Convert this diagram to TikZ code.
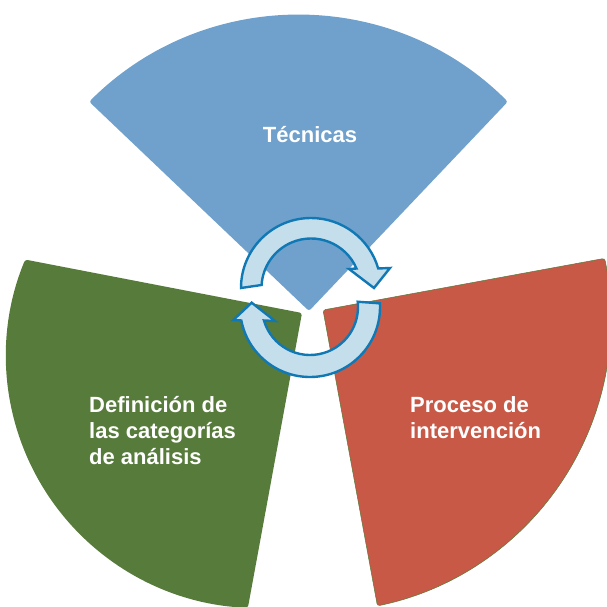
\documentclass[tikz,border=0pt]{standalone}
\usepackage{fontspec}
\setsansfont{Liberation Sans}
\usetikzlibrary{calc}
\definecolor{tecblue}{HTML}{6FA1CC}
\definecolor{defgreen}{HTML}{577B3B}
\definecolor{procred}{HTML}{C85946}
\definecolor{cycfill}{HTML}{C5DEEB}
\definecolor{cycline}{HTML}{1079B5}

\begin{document}
\begin{tikzpicture}[
  x=1pt, y=1pt,
  sector/.style={rounded corners=2.5pt},
  cyc/.style={fill=cycfill, draw=cycline, line width=2.4pt},
  lbl/.style={text=white, inner sep=0pt, font=\fontsize{22}{26}\selectfont\sffamily\bfseries}
]
\useasboundingbox (0,0) rectangle (607,606);
\clip (0,0) rectangle (607,606);

% tips and arc centres of the three sectors
\coordinate (btip) at (309,295);
\coordinate (bmid) at (298.5,295);
\coordinate (gtip) at (302,293);
\coordinate (gmid) at (258,250);
\coordinate (rtip) at (323,296);
\coordinate (rmid) at (318,287);

\path[sector, fill=tecblue] (btip) -- ($(bmid)+(135:296)$) arc[start angle=135, end angle=45, radius=296] -- cycle;
\path[sector, fill=defgreen] (gtip) -- ($(gmid)+(157.5:252)$) arc[start angle=157.5, end angle=267.7, radius=252] -- cycle;
\path[sector, fill=procred, draw=defgreen, line width=0.5pt] (rtip) -- ($(rmid)+(-78.3:293)$) arc[start angle=-78.3, end angle=11.95, radius=293] -- cycle;

% the two turning arrows
\coordinate (up) at (311,318);
\coordinate (lo) at (310,299);
\draw[cyc] ($(up)+(180:70)$) arc[start angle=180, end angle=16.2, radius=70]
  -- ($(up)+(79,20)$) -- ($(up)+(63,0)$) -- ($(up)+(38,19)$)
  -- ($(up)+(23.2:49.5)$) arc[start angle=23.2, end angle=176.5, radius=49.5] -- cycle;
\draw[cyc] ($(lo)+(3:70)$) arc[start angle=3, end angle=-168.9, radius=70]
  -- ($(lo)+(-76.7,-13)$) -- ($(lo)+(-58.3,4.3)$) -- ($(lo)+(-35,-14)$)
  -- ($(lo)+(-163.7:48)$) arc[start angle=-163.7, end angle=6.3, radius=48] -- cycle;

\node[lbl, anchor=base] (tec) at (310,463) {Técnicas};
\node[lbl, anchor=north west, align=left] (def) at (89,210) {Definición de\\las categorías\\de análisis};
\node[lbl, anchor=north west, align=left] (proc) at (410,210) {Proceso de\\intervención};
\end{tikzpicture}
\end{document}
